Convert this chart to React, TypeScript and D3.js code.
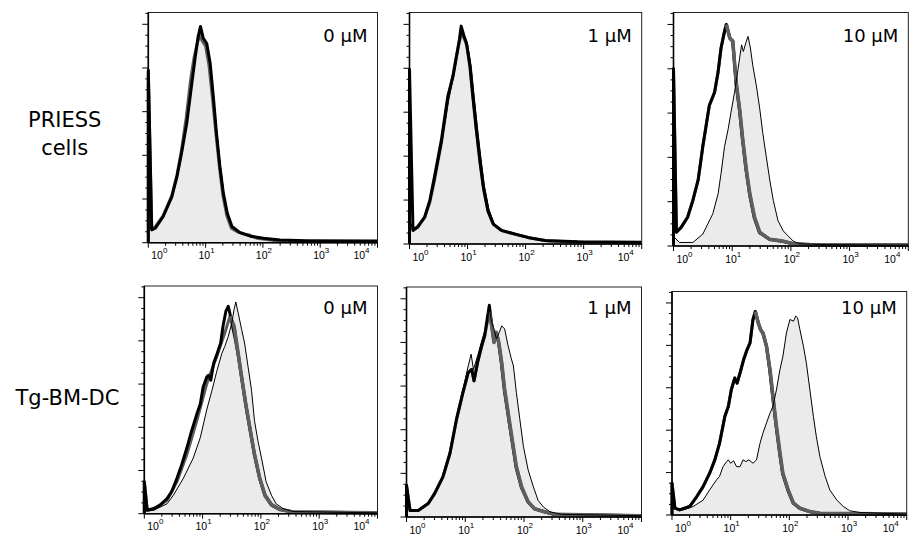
import React from "react";
import * as d3 from "d3";

const W = 912;
const H = 547;

// ---- text content ----
const rowLabels: string[][] = [["PRIESS", "cells"], ["Tg-BM-DC"]];
const doseLabels = ["0 µM", "1 µM", "10 µM"];
const decadeExponents = ["0", "1", "2", "3", "4"];
const xDomain = [1, 10000];
const yMax = 5.27; // in units of one major y tick

// ---- data: [log10 intensity, count (major-tick units)] ----
// PRIESS cells, 0 µM
const p1Control = [[0,0],[0,3.95],[0.06,0.29],[0.12,0.33],[0.26,0.6],[0.41,1.05],[0.5,1.51],[0.58,2.05],[0.67,2.73],[0.76,3.65],[0.82,4.26],[0.87,4.72],[0.91,4.95],[0.96,4.68],[1.02,4.56],[1.08,4.1],[1.14,3.27],[1.19,2.5],[1.25,1.74],[1.31,1.13],[1.38,0.67],[1.46,0.37],[1.6,0.23],[1.78,0.15],[2.01,0.1],[2.3,0.06],[2.77,0.045],[4,0.04]];
const p1Grey = [[0,0],[0,3.9],[0.06,0.32],[0.12,0.36],[0.26,0.62],[0.41,1.08],[0.5,1.55],[0.58,2.12],[0.66,2.85],[0.74,3.75],[0.8,4.25],[0.86,4.6],[0.9,4.72],[0.95,4.6],[1.0,4.5],[1.06,4.05],[1.12,3.3],[1.18,2.5],[1.24,1.74],[1.3,1.1],[1.37,0.62],[1.45,0.33],[1.55,0.25],[1.68,0.2],[1.78,0.17],[1.9,0.1],[2.2,0.05],[2.8,0.03],[4,0.02]];
const p1Stained = [[0,0],[0,0.4],[0.05,0.3],[0.12,0.34],[0.26,0.6],[0.41,1.04],[0.5,1.5],[0.58,2.05],[0.67,2.75],[0.76,3.7],[0.82,4.3],[0.88,4.7],[0.92,4.8],[0.97,4.65],[1.02,4.55],[1.08,4.1],[1.14,3.3],[1.2,2.5],[1.26,1.74],[1.32,1.12],[1.39,0.65],[1.47,0.35],[1.6,0.22],[1.78,0.14],[2.0,0.1],[2.3,0.06],[2.8,0.04],[4,0.03]];

// PRIESS cells, 1 µM
const p2Control = [[0,0],[0,3.97],[0.06,0.31],[0.14,0.38],[0.26,0.61],[0.35,0.99],[0.43,1.53],[0.55,2.37],[0.66,3.36],[0.75,3.82],[0.81,4.27],[0.86,4.66],[0.89,4.96],[0.94,4.73],[0.98,4.58],[1.04,4.05],[1.09,3.36],[1.15,2.6],[1.21,1.91],[1.27,1.3],[1.35,0.76],[1.44,0.46],[1.58,0.31],[1.81,0.23],[2.04,0.15],[2.33,0.08],[2.9,0.05],[4,0.04]];
const p2Grey = [[0,0],[0,0.5],[0.06,0.33],[0.14,0.4],[0.26,0.6],[0.35,0.95],[0.43,1.45],[0.55,2.3],[0.66,3.3],[0.75,3.85],[0.81,4.3],[0.86,4.6],[0.9,4.8],[0.95,4.65],[0.99,4.5],[1.05,4.0],[1.1,3.3],[1.16,2.55],[1.22,1.85],[1.28,1.25],[1.36,0.72],[1.45,0.44],[1.6,0.3],[1.85,0.21],[2.1,0.13],[2.4,0.07],[3,0.04],[4,0.03]];
const p2Stained = [[0,0],[0,0.5],[0.06,0.35],[0.14,0.4],[0.26,0.58],[0.35,0.92],[0.43,1.4],[0.55,2.25],[0.67,3.25],[0.76,3.85],[0.82,4.3],[0.87,4.65],[0.9,4.85],[0.95,4.7],[1.0,4.55],[1.06,4.05],[1.11,3.4],[1.17,2.65],[1.23,1.95],[1.29,1.32],[1.37,0.78],[1.46,0.46],[1.6,0.3],[1.85,0.2],[2.1,0.12],[2.4,0.07],[3,0.04],[4,0.03]];

// PRIESS cells, 10 µM
const p3Rise = [[0,0],[0,4.0],[0.05,0.31],[0.13,0.42],[0.24,0.65],[0.33,1.03],[0.42,1.49],[0.5,2.25],[0.61,3.17],[0.7,3.47],[0.76,3.93],[0.81,4.47],[0.87,4.85],[0.9,5.0],[0.96,4.69],[1.01,4.62]];
const p3ControlFall = [[1.065,3.68],[1.125,3.05],[1.175,2.4],[1.235,1.72],[1.295,1.17],[1.375,0.64],[1.465,0.3],[1.635,0.15],[1.865,0.1],[2.035,0.05],[2.31,0.03],[4,0.02]];
const p3GreyFall = [[1.07,3.66],[1.13,3.05],[1.18,2.4],[1.24,1.72],[1.3,1.18],[1.38,0.65],[1.47,0.31],[1.64,0.15],[1.87,0.11],[2.04,0.05],[2.32,0.03],[4,0.02]];
const p3Stained = [[0,0],[0,0.3],[0.02,0.19],[0.1,0.08],[0.33,0.08],[0.5,0.27],[0.67,0.73],[0.76,1.18],[0.81,1.64],[0.87,2.25],[0.93,2.63],[0.98,3.02],[1.04,3.47],[1.1,4.0],[1.16,4.54],[1.19,4.39],[1.24,4.62],[1.27,4.73],[1.31,4.47],[1.35,4.08],[1.41,3.63],[1.47,3.09],[1.52,2.56],[1.58,2.02],[1.64,1.49],[1.7,1.03],[1.78,0.57],[1.87,0.34],[1.95,0.23],[2.04,0.11],[2.15,0.05],[2.6,0.03],[4,0.02]];

// Tg-BM-DC, 0 µM
const p4Control = [[0,0],[0,0.74],[0.05,0.08],[0.16,0.12],[0.27,0.2],[0.39,0.35],[0.47,0.51],[0.56,0.82],[0.64,1.13],[0.73,1.52],[0.81,1.91],[0.9,2.3],[0.96,2.54],[1.01,2.93],[1.07,3.16],[1.1,3.2],[1.14,3.09],[1.19,3.48],[1.25,3.71],[1.31,3.95],[1.35,4.34],[1.4,4.69],[1.44,4.8],[1.48,4.57],[1.52,4.3],[1.56,4.05],[1.61,3.68],[1.67,3.14],[1.74,2.52],[1.82,1.9],[1.89,1.36],[1.98,0.81],[2.07,0.42],[2.18,0.2],[2.32,0.1],[2.55,0.04],[4,0.02]];
const p4Grey = [[0,0],[0,0.74],[0.05,0.08],[0.16,0.1],[0.39,0.31],[0.56,0.74],[0.73,1.37],[0.9,2.15],[1.07,3.0],[1.15,3.3],[1.24,3.63],[1.38,4.18],[1.47,4.57],[1.54,4.34],[1.61,3.71],[1.67,3.16],[1.74,2.54],[1.82,1.91],[1.89,1.37],[1.98,0.82],[2.07,0.43],[2.18,0.21],[2.32,0.1],[2.55,0.04],[4,0.02]];
const p4Stained = [[0,0],[0,0.74],[0.05,0.08],[0.16,0.08],[0.39,0.23],[0.5,0.43],[0.67,0.82],[0.84,1.29],[0.96,1.76],[1.07,2.4],[1.16,2.85],[1.24,3.28],[1.33,3.71],[1.38,3.87],[1.44,4.1],[1.5,4.41],[1.54,4.73],[1.57,4.9],[1.61,4.65],[1.67,4.26],[1.72,3.95],[1.78,3.4],[1.84,2.85],[1.89,2.15],[1.95,1.68],[2.01,1.29],[2.09,0.74],[2.18,0.43],[2.26,0.23],[2.38,0.12],[2.55,0.05],[4,0.02]];

// Tg-BM-DC, 1 µM
const p5Rise = [[0,0],[0,0.73],[0.06,0.15],[0.2,0.15],[0.37,0.31],[0.48,0.54],[0.62,0.92],[0.74,1.46],[0.85,2.23],[0.96,2.85],[1.05,3.31],[1.11,3.38],[1.15,3.12],[1.21,3.54],[1.28,3.92],[1.33,4.15]];
const p5ControlFall = [[1.38,4.6],[1.41,4.85],[1.45,4.42],[1.49,4.02],[1.53,4.22],[1.57,3.98],[1.615,3.52],[1.665,2.91],[1.725,2.37],[1.785,1.84],[1.865,1.14],[1.955,0.68],[2.065,0.35],[2.175,0.19],[2.345,0.12],[2.51,0.06],[4,0.03]];
const p5GreyFall = [[1.41,4.69],[1.45,4.38],[1.49,4.0],[1.53,4.23],[1.57,4.0],[1.62,3.54],[1.67,2.92],[1.73,2.38],[1.79,1.85],[1.87,1.15],[1.96,0.69],[2.07,0.35],[2.18,0.19],[2.35,0.12],[2.52,0.06],[4,0.03]];
const p5Stained = [[0,0],[0,0.73],[0.06,0.15],[0.2,0.15],[0.37,0.3],[0.48,0.52],[0.62,0.9],[0.74,1.45],[0.85,2.25],[0.96,2.9],[1.05,3.46],[1.1,3.73],[1.14,3.38],[1.21,3.69],[1.29,4.08],[1.36,4.38],[1.41,4.77],[1.45,4.46],[1.49,4.31],[1.53,4.08],[1.58,4.23],[1.62,4.38],[1.67,4.31],[1.73,3.92],[1.78,3.65],[1.82,3.46],[1.87,2.85],[1.93,2.23],[1.99,1.62],[2.07,1.08],[2.16,0.69],[2.24,0.38],[2.33,0.23],[2.44,0.12],[2.64,0.06],[4,0.03]];

// Tg-BM-DC, 10 µM
const p6Rise = [[0,0],[0,0.75],[0.05,0.16],[0.13,0.12],[0.3,0.2],[0.42,0.43],[0.53,0.67],[0.64,0.98],[0.73,1.3],[0.81,1.69],[0.9,2.32],[0.96,2.56],[1.01,2.95],[1.07,3.23],[1.11,3.11],[1.16,3.35],[1.22,3.66],[1.28,3.9],[1.33,4.06],[1.38,4.61],[1.42,4.8],[1.47,4.53],[1.51,4.37],[1.55,4.29],[1.61,3.98]];
const p6ControlFall = [[1.665,3.42],[1.715,2.8],[1.775,2.08],[1.835,1.45],[1.885,0.97],[1.975,0.58],[2.065,0.28],[2.175,0.16],[2.345,0.08],[2.515,0.04],[4,0.02]];
const p6GreyFall = [[1.67,3.43],[1.72,2.8],[1.78,2.09],[1.84,1.46],[1.89,0.98],[1.98,0.59],[2.07,0.28],[2.18,0.16],[2.35,0.08],[2.52,0.04],[4,0.02]];
const p6Stained = [[0,0],[0,0.6],[0.05,0.16],[0.19,0.12],[0.36,0.2],[0.53,0.35],[0.64,0.59],[0.76,0.83],[0.81,0.91],[0.87,1.14],[0.93,1.26],[0.96,1.3],[1.0,1.22],[1.05,1.28],[1.1,1.14],[1.16,1.14],[1.21,1.3],[1.26,1.26],[1.31,1.3],[1.38,1.22],[1.44,1.3],[1.5,1.69],[1.55,1.93],[1.61,2.17],[1.67,2.4],[1.72,2.56],[1.78,2.95],[1.84,3.43],[1.89,3.74],[1.95,4.29],[2.01,4.61],[2.07,4.57],[2.11,4.69],[2.14,4.65],[2.18,4.37],[2.24,3.98],[2.29,3.58],[2.35,2.95],[2.41,2.32],[2.46,1.85],[2.52,1.38],[2.61,0.91],[2.69,0.59],[2.81,0.35],[2.92,0.2],[3.03,0.1],[3.2,0.06],[4,0.02]];

const panelSeries = [
  { control: p1Control, grey: p1Grey, stained: p1Stained },
  { control: p2Control, grey: p2Grey, stained: p2Stained },
  { control: [...p3Rise, ...p3ControlFall], grey: [...p3Rise, ...p3GreyFall], stained: p3Stained },
  { control: p4Control, grey: p4Grey, stained: p4Stained },
  { control: [...p5Rise, ...p5ControlFall], grey: [...p5Rise, ...p5GreyFall], stained: p5Stained },
  { control: [...p6Rise, ...p6ControlFall], grey: [...p6Rise, ...p6GreyFall], stained: p6Stained },
];
// whether the grey histogram's falling side shows above the black one
const greyFallOnTop = [false, false, true, true, true, true];

// ---- layout (pixel boxes of the six panels) ----
const boxes = [
  { x0: 148.3, x1: 377.5, y0: 12.5, y1: 242.7 },
  { x0: 409.5, x1: 641.7, y0: 12.5, y1: 244 },
  { x0: 673.5, x1: 908.3, y0: 12.5, y1: 246 },
  { x0: 144.3, x1: 377.5, y0: 286, y1: 513.7 },
  { x0: 406.5, x1: 641.5, y0: 287, y1: 517 },
  { x0: 672, x1: 906.7, y0: 291.5, y1: 515 },
];
const doseBaseline = [42, 42, 42, 314, 314, 314];

const FILL = "#ebebeb";
const GREY = "#5e5e5e";

function Panel({ idx }: { idx: number }) {
  const b = boxes[idx];
  const s = panelSeries[idx];
  const x = d3.scaleLog().domain(xDomain).range([b.x0, b.x1]);
  const y = d3.scaleLinear().domain([0, yMax]).range([b.y1, b.y0]);
  const px = (d: number[]) => x(Math.pow(10, d[0]));
  const line = d3.line<number[]>().x(px).y((d) => y(d[1])).curve(d3.curveLinear);
  const area = d3.area<number[]>().x(px).y0(y(0)).y1((d) => y(d[1])).curve(d3.curveLinear);
  const xt = x.ticks();
  const yt = d3.range(0, yMax, 0.25);
  const majors = xt.filter((v) => Math.abs(Math.log10(v) - Math.round(Math.log10(v))) < 1e-9);
  const greyPeak = d3.maxIndex(s.grey, (d) => d[1]);
  const greyFall = s.grey.slice(greyPeak);
  return (
    <g>
      <path d={area(s.stained) || ""} fill={FILL} stroke="none" />
      <path d={line(s.grey) || ""} fill="none" stroke={GREY} strokeWidth={3} strokeLinejoin="round" />
      <path d={line(s.control) || ""} fill="none" stroke="#000" strokeWidth={3} strokeLinejoin="round" />
      {greyFallOnTop[idx] && (
        <path d={line(greyFall) || ""} fill="none" stroke={GREY} strokeWidth={3.6} strokeLinejoin="round" />
      )}
      <path d={line(s.stained) || ""} fill="none" stroke="#000" strokeWidth={1} strokeLinejoin="round" />
      {/* frame */}
      <rect x={b.x0} y={b.y0} width={b.x1 - b.x0} height={b.y1 - b.y0} fill="none" stroke="#222" strokeWidth={1} />
      <line x1={b.x0} x2={b.x1} y1={b.y1} y2={b.y1} stroke="#000" strokeWidth={1.6} />
      <line x1={b.x0} x2={b.x0} y1={b.y0} y2={b.y1} stroke="#000" strokeWidth={1.6} />
      {/* x ticks */}
      {xt.map((v, i) => {
        const isMajor = majors.includes(v);
        return (
          <line key={"xt" + i} x1={x(v)} x2={x(v)} y1={b.y1} y2={b.y1 + (isMajor ? 5 : 3)} stroke="#000" strokeWidth={1} />
        );
      })}
      {/* y ticks */}
      {yt.map((v, i) => {
        const isMajor = Math.abs(v - Math.round(v)) < 1e-9;
        return (
          <line key={"yt" + i} x1={b.x0 - (isMajor ? 6 : 3)} x2={b.x0} y1={y(v)} y2={y(v)} stroke="#000" strokeWidth={1} />
        );
      })}
      {/* decade labels */}
      {majors.map((v, i) => {
        const off = i === 0 ? 11 : i === majors.length - 1 ? -16 : 1;
        return (
          <text key={"xl" + i} x={x(v) + off} y={b.y1 + 16.6} textAnchor="middle" fontFamily="'Liberation Sans', Arial, sans-serif" fontSize={10.5} fill="#000">
            10
            <tspan fontSize={8} dy={-6}>{decadeExponents[i]}</tspan>
          </text>
        );
      })}
      <text x={b.x1 - 10} y={doseBaseline[idx]} textAnchor="end" fontFamily="'DejaVu Sans', sans-serif" fontSize={18} fill="#000">
        {doseLabels[idx % 3]}
      </text>
    </g>
  );
}

export default function App() {
  return (
    <svg width={W} height={H} viewBox={`0 0 ${W} ${H}`} style={{ position: "absolute", left: 0, top: 0, background: "#fff", display: "block" }}>
      <rect x={0} y={0} width={W} height={H} fill="#fff" />
      <text x={64.7} y={127} textAnchor="middle" fontFamily="'DejaVu Sans', sans-serif" fontSize={21} fill="#000">{rowLabels[0][0]}</text>
      <text x={64.7} y={155} textAnchor="middle" fontFamily="'DejaVu Sans', sans-serif" fontSize={21} fill="#000">{rowLabels[0][1]}</text>
      <text x={67.5} y={405} textAnchor="middle" fontFamily="'DejaVu Sans', sans-serif" fontSize={21} fill="#000">{rowLabels[1][0]}</text>
      {boxes.map((_, i) => (
        <Panel key={i} idx={i} />
      ))}
    </svg>
  );
}
